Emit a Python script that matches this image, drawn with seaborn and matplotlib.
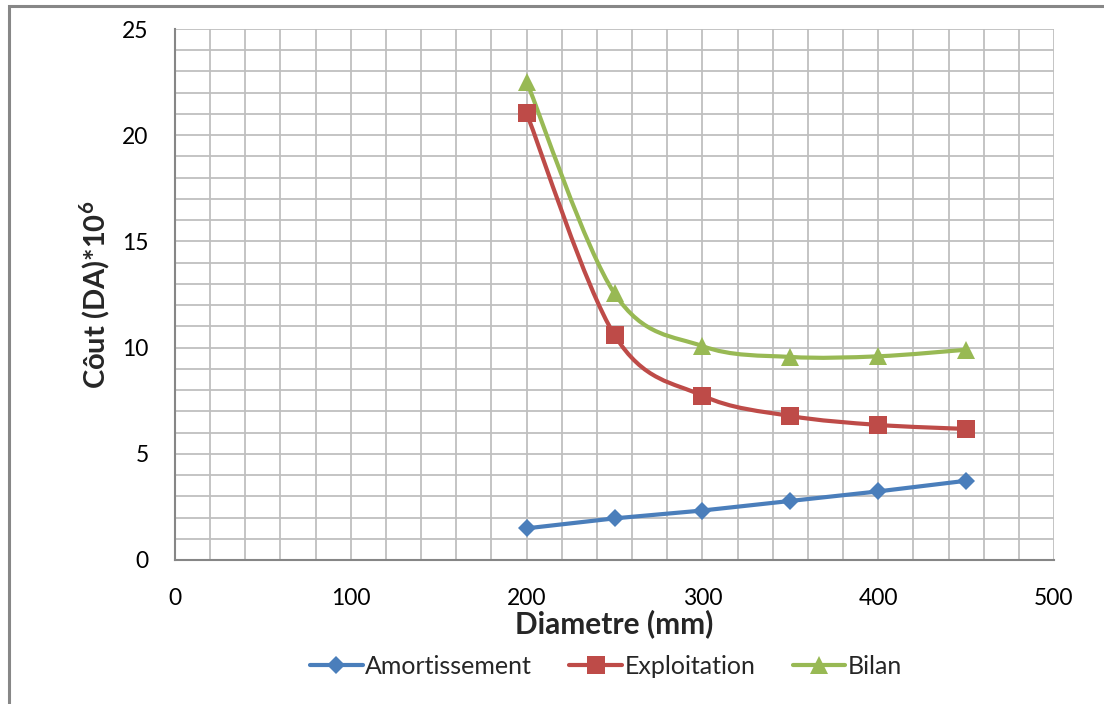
import numpy as np
import pandas as pd
import matplotlib
matplotlib.use("Agg")
import matplotlib.pyplot as plt
import seaborn as sns
from matplotlib.path import Path
from matplotlib.patches import PathPatch, Rectangle
from matplotlib.lines import Line2D
from matplotlib.ticker import MultipleLocator

# ---- data ----
diametre = [200, 250, 300, 350, 400, 450]
amortissement = [1.49, 1.96, 2.33, 2.78, 3.23, 3.73]
exploitation = [21.03, 10.59, 7.74, 6.78, 6.36, 6.17]
bilan = [22.52, 12.55, 10.07, 9.56, 9.59, 9.90]
series_names = ["Amortissement", "Exploitation", "Bilan"]
x_ticks = [0, 100, 200, 300, 400, 500]
y_ticks = [0, 5, 10, 15, 20, 25]

colors = {"Amortissement": "#4A7EBB", "Exploitation": "#BE4B48", "Bilan": "#98B954"}
markers = {"Amortissement": "D", "Exploitation": "s", "Bilan": "^"}
msizes = {"Amortissement": 9.5, "Exploitation": 12.5, "Bilan": 13.5}

sns.set_theme(style="white")
plt.rcParams["font.family"] = ["Lato", "DejaVu Sans"]
plt.rcParams["mathtext.fontset"] = "custom"
plt.rcParams["mathtext.rm"] = "Lato"
plt.rcParams["mathtext.bf"] = "Lato:bold"

df = pd.DataFrame({
    "Diametre": diametre * 3,
    "Cout": amortissement + exploitation + bilan,
    "Serie": [s for s in series_names for _ in diametre],
})

fig = plt.figure(figsize=(11.04, 7.04), dpi=100)
ax = fig.add_axes([175 / 1104, 1 - 560 / 704, (1054 - 175) / 1104, (560 - 29) / 704])

grid_c = "#BFBFBF"
axis_c = "#868686"

ax.set_xlim(0, 500)
ax.set_ylim(0, 25)
ax.xaxis.set_major_locator(MultipleLocator(100))
ax.xaxis.set_minor_locator(MultipleLocator(20))
ax.yaxis.set_major_locator(MultipleLocator(5))
ax.yaxis.set_minor_locator(MultipleLocator(1))
ax.grid(which="both", color=grid_c, linewidth=1.3)
ax.set_axisbelow(True)
for s in ["top", "right"]:
    ax.spines[s].set_visible(False)
for s in ["left", "bottom"]:
    ax.spines[s].set_color(axis_c)
    ax.spines[s].set_linewidth(1.5)
ax.tick_params(which="major", direction="out", length=7, width=1.5, color=axis_c,
               labelsize=16.5, labelcolor="black")
ax.tick_params(which="minor", length=0)
ax.tick_params(axis="x", pad=13)
ax.tick_params(axis="y", pad=12)
ax.set_xticks(x_ticks)
ax.set_yticks(y_ticks)


def smooth_path(xs, ys):
    pts = np.column_stack([xs, ys]).astype(float)
    n = len(pts)
    verts = [pts[0]]
    codes = [Path.MOVETO]
    for i in range(n - 1):
        p0 = pts[i - 1] if i > 0 else pts[i]
        p1 = pts[i]
        p2 = pts[i + 1]
        p3 = pts[i + 2] if i + 2 < n else pts[i + 1]
        c1 = p1 + (p2 - p0) / 6.0
        c2 = p2 - (p3 - p1) / 6.0
        verts += [c1, c2, p2]
        codes += [Path.CURVE4] * 3
    return Path(verts, codes)


handles = []
for name in series_names:
    sub = df[df["Serie"] == name]
    smooth = name != "Amortissement"
    sns.lineplot(data=sub, x="Diametre", y="Cout", ax=ax, color=colors[name],
                 linewidth=0 if smooth else 3.0, marker=markers[name],
                 markersize=msizes[name], markeredgewidth=0, legend=False, zorder=4)
    if smooth:
        patch = PathPatch(smooth_path(sub["Diametre"].values, sub["Cout"].values),
                          facecolor="none", edgecolor=colors[name], linewidth=3.0,
                          zorder=3, capstyle="round")
        ax.add_patch(patch)
    handles.append(Line2D([], [], color=colors[name], linewidth=3.0, marker=markers[name],
                          markersize=msizes[name], markeredgewidth=0))

ax.set_xlabel("Diametre (mm)", fontsize=21.5, fontweight="bold", labelpad=0)
ax.set_ylabel(r"Côut (DA)*10$^{\mathbf{6}}$", fontsize=21, fontweight="bold", labelpad=7)

fig.legend(handles, series_names, loc="center", bbox_to_anchor=(606 / 1104, 1 - 666 / 704),
           ncol=3, frameon=False, fontsize=18, handlelength=2.1, handletextpad=0.1,
           columnspacing=1.5)

# outer chart border (cut by image edges on right and bottom)
fig.patches.append(Rectangle((9 / 1104, -0.1), 1.2, 1 - 6 / 704 + 0.1,
                             transform=fig.transFigure, fill=False,
                             edgecolor="#878787", linewidth=2.2))

fig.savefig("out.png", dpi=100)
